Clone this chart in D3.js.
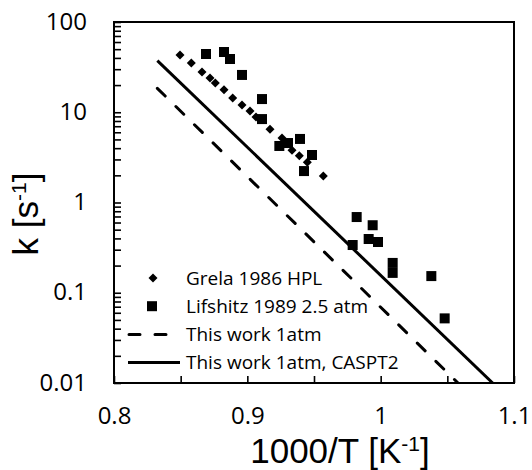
<!DOCTYPE html>
<html>
<head>
<meta charset="utf-8">
<style>
body { margin: 0; background: #fff; }
text { font-family: "Open Sans", sans-serif; fill: #000; }
</style>
</head>
<body>
<svg width="532" height="470"></svg>
<script src="https://cdnjs.cloudflare.com/ajax/libs/d3/7.8.5/d3.min.js"></script>
<script>
// x = 1000/T [1/K], y = k [1/s]
var grelaX = [0.8495, 0.858, 0.866, 0.872, 0.876, 0.8825, 0.889, 0.896, 0.902, 0.9065, 0.9095, 0.917, 0.926, 0.9335, 0.939, 0.945, 0.957];
var grelaK = [43.1, 35.1, 27.9, 23.9, 21.1, 17.7, 14.4, 12.0, 10.3, 8.85, 8.4, 6.5, 5.2, 3.8, 3.3, 2.8, 1.97];

var lifX = [0.869, 0.8825, 0.887, 0.896, 0.911, 0.911, 0.924, 0.9305, 0.9395, 0.9485, 0.9425, 0.982, 0.994, 0.991, 0.998, 0.979, 1.009, 1.009, 1.038, 1.048];
var lifK = [44.2, 46.5, 38.9, 25.9, 14.0, 8.4, 4.23, 4.56, 5.06, 3.36, 2.23, 0.69, 0.56, 0.394, 0.365, 0.338, 0.214, 0.166, 0.153, 0.052];

var work1atmX = [0.8325, 1.058];
var work1atmK = [18.4, 0.01];
var casptX = [0.8325, 1.084];
var casptK = [37.3, 0.01];

var xTicks = [0.8, 0.85, 0.9, 0.95, 1.0, 1.05, 1.1];
var xLabels = [0.8, 0.9, 1.0, 1.1];
var yLabels = [100, 10, 1, 0.1, 0.01];
var legendNames = ["Grela 1986 HPL", "Lifshitz 1989 2.5 atm", "This work 1atm", "This work 1atm, CASPT2"];

var svg = d3.select("svg");
var pLeft = 114, pRight = 514, pTop = 22, pBottom = 383;

var x = d3.scaleLinear().domain([0.8, 1.1]).range([pLeft, pRight]);
var y = d3.scaleLog().domain([0.01, 100]).range([pBottom, pTop]);

// minor ticks for log axis
var yMinor = [];
[0.01, 0.1, 1, 10].forEach(function(d) {
  for (var m = 1; m < 10; m++) yMinor.push(d * m);
});
yMinor.push(100);

svg.append("defs").append("clipPath").attr("id", "plot")
  .append("rect").attr("x", pLeft).attr("y", pTop)
  .attr("width", pRight - pLeft).attr("height", pBottom - pTop);

// inner ticks
svg.append("g").attr("transform", "translate(" + pLeft + ",0)")
  .call(d3.axisLeft(y).tickValues(yMinor).tickSize(-7).tickFormat(""))
  .call(function(g) { g.select(".domain").remove(); })
  .selectAll("line").attr("stroke", "#000").attr("stroke-width", 1.6);

svg.append("g").attr("transform", "translate(0," + pBottom + ")")
  .call(d3.axisBottom(x).tickValues(xTicks).tickSize(-7).tickFormat(""))
  .call(function(g) { g.select(".domain").remove(); })
  .selectAll("line").attr("stroke", "#000").attr("stroke-width", 1.6);

// tick labels
svg.append("g").attr("transform", "translate(" + pLeft + ",0)")
  .call(d3.axisLeft(y).tickValues(yLabels).tickSize(0).tickPadding(27)
    .tickFormat(function(d) { return d >= 1 ? d3.format("d")(d) : String(d); }))
  .call(function(g) { g.select(".domain").remove(); })
  .call(function(g) { g.attr("font-family", null).attr("font-size", null); })
  .selectAll("text").style("font-size", "24px").attr("dy", "0.3em");

svg.append("g").attr("transform", "translate(0," + pBottom + ")")
  .call(d3.axisBottom(x).tickValues(xLabels).tickSize(0).tickPadding(24)
    .tickFormat(function(d) { return String(+d.toFixed(2)); }))
  .call(function(g) { g.select(".domain").remove(); })
  .call(function(g) { g.attr("font-family", null).attr("font-size", null); })
  .selectAll("text").style("font-size", "24px");

// frame
svg.append("rect").attr("x", pLeft).attr("y", pTop)
  .attr("width", pRight - pLeft).attr("height", pBottom - pTop)
  .attr("fill", "none").attr("stroke", "#000").attr("stroke-width", 2);

var plot = svg.append("g").attr("clip-path", "url(#plot)");
var line = d3.line().x(function(d) { return x(d[0]); }).y(function(d) { return y(d[1]); });

plot.append("path").datum(d3.zip(work1atmX, work1atmK))
  .attr("d", line).attr("fill", "none").attr("stroke", "#000")
  .attr("stroke-width", 3).attr("stroke-dasharray", "11,15").attr("stroke-linecap", "round");

plot.append("path").datum(d3.zip(casptX, casptK))
  .attr("d", line).attr("fill", "none").attr("stroke", "#000")
  .attr("stroke-width", 3);

var diamond = "M0,-4.5L4.5,0L0,4.5L-4.5,0Z";
plot.selectAll(".grela").data(d3.zip(grelaX, grelaK)).enter().append("path")
  .attr("class", "grela").attr("d", diamond).attr("fill", "#000")
  .attr("transform", function(d) { return "translate(" + x(d[0]) + "," + y(d[1]) + ")"; });

plot.selectAll(".lif").data(d3.zip(lifX, lifK)).enter().append("rect")
  .attr("class", "lif").attr("width", 10).attr("height", 10).attr("fill", "#000")
  .attr("x", function(d) { return x(d[0]) - 5; })
  .attr("y", function(d) { return y(d[1]) - 5; });

// legend
var lg = svg.append("g").attr("transform", "translate(128,278)");
var rowH = 28.2;
lg.append("path").attr("d", diamond).attr("transform", "translate(25,0)");
lg.append("rect").attr("x", 19).attr("y", rowH - 5).attr("width", 10).attr("height", 10);
lg.append("line").attr("x1", 1).attr("x2", 44).attr("y1", rowH * 2).attr("y2", rowH * 2)
  .attr("stroke", "#000").attr("stroke-width", 3).attr("stroke-dasharray", "11,15").attr("stroke-linecap", "round");
lg.append("line").attr("x1", 0).attr("x2", 52).attr("y1", rowH * 3).attr("y2", rowH * 3)
  .attr("stroke", "#000").attr("stroke-width", 3);
lg.selectAll(".lt").data(legendNames).enter().append("text")
  .attr("x", 58).attr("y", function(d, i) { return i * rowH; })
  .attr("dy", "0.36em").style("font-size", "19px").text(function(d) { return d; });

// axis titles
var xt = svg.append("text").attr("x", 340).attr("y", 463).attr("text-anchor", "middle")
  .style("font-family", "'Liberation Sans', Arial, sans-serif").style("font-size", "35px");
xt.append("tspan").text("1000/T [K");
xt.append("tspan").attr("dy", -12).style("font-size", "21px").text("-1");
xt.append("tspan").attr("dy", 12).text("]");

var yt = svg.append("text").attr("transform", "translate(38,214) rotate(-90)")
  .attr("text-anchor", "middle")
  .style("font-family", "'Liberation Sans', Arial, sans-serif").style("font-size", "35px");
yt.append("tspan").text("k [s");
yt.append("tspan").attr("dy", -12).style("font-size", "21px").text("-1");
yt.append("tspan").attr("dy", 12).text("]");
</script>
</body>
</html>
